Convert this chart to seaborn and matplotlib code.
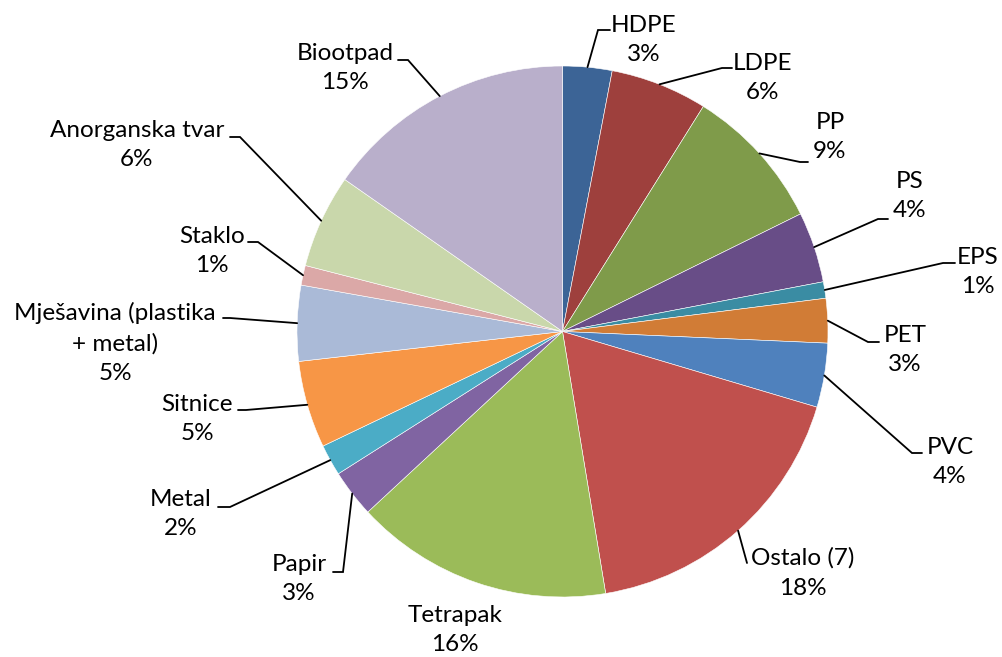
import numpy as np
import matplotlib
matplotlib.use("Agg")
import matplotlib.pyplot as plt
import seaborn as sns

# ---- data ----
categories = ["HDPE", "LDPE", "PP", "PS", "EPS", "PET", "PVC", "Ostalo (7)",
              "Tetrapak", "Papir", "Metal", "Sitnice",
              "Mješavina (plastika\n+ metal)", "Staklo", "Anorganska tvar", "Biootpad"]
shares = [3.0, 5.9, 8.8, 4.3, 1.0, 2.7, 3.9, 17.8,
          15.7, 2.9, 1.9, 5.3, 4.6, 1.2, 5.7, 15.3]
colors = ["#3C6496", "#9E403D", "#7F9B4A", "#684D87", "#3A8CA3", "#D17C36",
          "#4F81BD", "#C0504D", "#9BBB59", "#8064A2", "#4BACC6", "#F79646",
          "#AABAD7", "#DBA8A7", "#C9D7AB", "#B9AFCB"]

# ---- layout (pixel coordinates of the 1002x657 canvas) ----
W, H = 1002, 657
center_px = (562.5, 331.5)
radius_px = 265.5
label_pos = [(644, 40), (763, 78), (830, 137), (910, 196), (978, 272), (905, 350),
             (950, 462), (803, 573), (455, 630), (299, 579), (181, 514), (197, 419),
             (115, 343), (212, 251), (137, 145), (345, 68)]
leader_elbow = [(598, 30), (722, 68), (800, 162), (878, 219), (943, 263), (868, 342),
                (912, 453), (747, 563), None, (343, 572), (230, 507), (246, 410),
                (230, 318), (258, 242), (240, 137), (408, 60)]
leader_end = [(610, 30), (732, 68), (808, 162), (888, 219), (955, 263), (879, 342),
              (922, 453), (747, 563), None, (333, 572), (218, 507), (238, 410),
              (223, 318), (248, 242), (230, 137), (398, 60)]

sns.set_theme(style="white")
plt.rcParams["font.family"] = ["Lato", "DejaVu Sans"]

fig = plt.figure(figsize=(W / 100, H / 100), dpi=100)
ax = fig.add_axes([0, 0, 1, 1])

def fy(y):
    return H - y

cx, cy = center_px[0], fy(center_px[1])
wedges, _ = ax.pie(shares, colors=colors, startangle=90, counterclock=False,
                   center=(cx, cy), radius=radius_px,
                   wedgeprops=dict(edgecolor="white", linewidth=0.4),
                   frame=True)
ax.set_xlim(0, W)
ax.set_ylim(0, H)
ax.axis("off")

total = sum(shares)
cum = np.cumsum([0] + shares)
for i, (cat, val) in enumerate(zip(categories, shares)):
    pct = f"{val / total * 100:.0f}%"
    tx, ty = label_pos[i]
    ax.text(tx, fy(ty), f"{cat}\n{pct}", ha="center", va="center",
            multialignment="center", fontsize=17.5, color="black", linespacing=1.5)
    if leader_elbow[i] is not None:
        mid = (cum[i] + cum[i + 1]) / 2 / total * 2 * np.pi
        sx = cx + radius_px * np.sin(mid)
        sy = cy + radius_px * np.cos(mid)
        ex, ey = leader_elbow[i]
        kx, ky = leader_end[i]
        ax.plot([sx, ex, kx], [sy, fy(ey), fy(ky)], color="black", lw=1.3,
                solid_joinstyle="miter")

fig.savefig("out.png", dpi=100, facecolor="white")
